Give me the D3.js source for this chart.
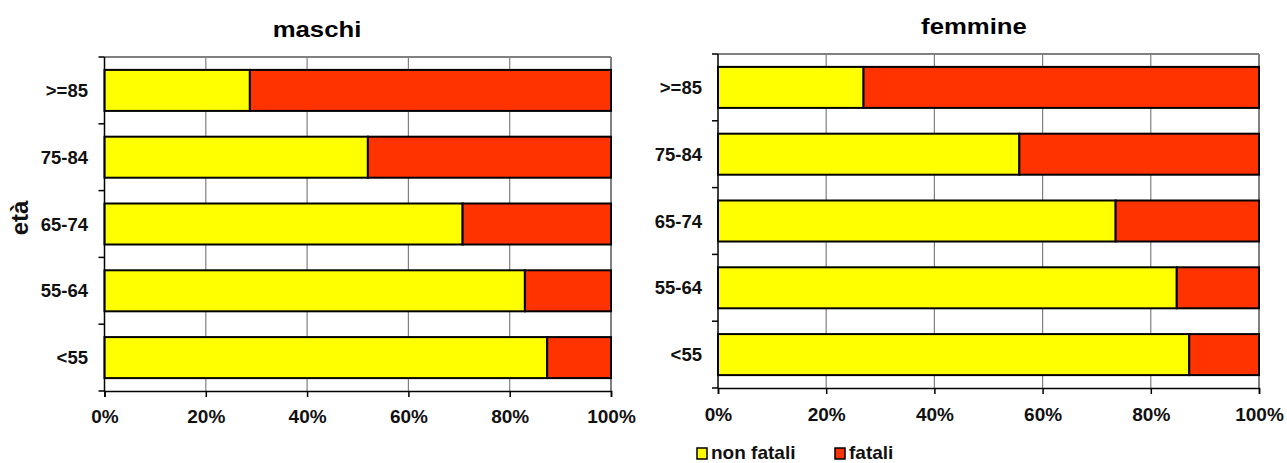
<!DOCTYPE html>
<html>
<head>
<meta charset="utf-8">
<script src="https://cdn.jsdelivr.net/npm/d3@7"></script>
<style>
  html, body { margin: 0; padding: 0; background: #fff; }
  svg { display: block; font-family: "Liberation Sans", Arial, sans-serif; }
</style>
</head>
<body>
<svg id="chart" width="1287" height="463"></svg>
<script>
// Age classes, top to bottom
const categories = [">=85", "75-84", "65-74", "55-64", "<55"];
// Share of events (%) by outcome
const maschiNonFatali  = [28.7, 52.0, 70.7, 83.0, 87.4];
const maschiFatali     = [71.3, 48.0, 29.3, 17.0, 12.6];
const femmineNonFatali = [26.9, 55.7, 73.5, 84.8, 87.1];
const femmineFatali    = [73.1, 44.3, 26.5, 15.2, 12.9];
const percentTicks = [0, 20, 40, 60, 80, 100];
const seriesNames = ["non fatali", "fatali"];
const seriesColors = ["#ffff00", "#ff3300"];

const svg = d3.select("#chart");

function drawPanel(opts) {
  const { title, nonFatali, fatali, x0, x1, top, bottom, titleX, titleY, labelRight, tickLabelY } = opts;
  const g = svg.append("g");

  const x = d3.scaleLinear().domain([0, 100]).range([x0, x1]);
  const y = d3.scaleBand().domain(categories).range([top, bottom])
    .paddingInner(0.386).paddingOuter(0.193);

  // vertical gridlines
  g.append("g").selectAll("line").data(percentTicks.slice(1)).join("line")
    .attr("x1", d => x(d)).attr("x2", d => x(d))
    .attr("y1", top).attr("y2", bottom)
    .attr("stroke", "#808080").attr("stroke-width", d => d === 100 ? 2 : 1.2);
  // top border
  g.append("line").attr("x1", x0).attr("x2", x1).attr("y1", top).attr("y2", top)
    .attr("stroke", "#808080").attr("stroke-width", 2);

  // stacked bars
  const rows = categories.map((c, i) => ({ cat: c, nf: nonFatali[i], f: fatali[i] }));
  const stacked = d3.stack().keys(["nf", "f"])(rows);
  g.append("g").selectAll("g").data(stacked).join("g")
    .attr("fill", (d, i) => seriesColors[i])
    .selectAll("rect").data(d => d).join("rect")
      .attr("x", d => x(d[0]))
      .attr("width", d => x(d[1]) - x(d[0]))
      .attr("y", d => y(d.data.cat))
      .attr("height", y.bandwidth())
      .attr("stroke", "#000").attr("stroke-width", 2);

  // left axis: line, ticks at class boundaries, labels at class centres
  const step = y.step();
  const bounds = d3.range(categories.length + 1).map(i => top + i * step);
  g.append("line").attr("x1", x0).attr("x2", x0).attr("y1", top).attr("y2", bottom)
    .attr("stroke", "#000").attr("stroke-width", 1.5);
  g.append("g").selectAll("line").data(bounds).join("line")
    .attr("x1", x0 - 6).attr("x2", x0).attr("y1", d => d).attr("y2", d => d)
    .attr("stroke", "#000").attr("stroke-width", 1.5);
  g.append("g").selectAll("text").data(categories).join("text")
    .attr("x", labelRight)
    .attr("y", d => y(d) + y.bandwidth() / 2)
    .attr("dy", "0.36em")
    .attr("text-anchor", "end")
    .attr("font-size", 18.5).attr("font-weight", "bold").attr("fill", "#111")
    .text(d => d);

  // bottom axis
  const axis = g.append("g").attr("transform", `translate(0,${bottom})`)
    .call(d3.axisBottom(x).tickValues(percentTicks).tickFormat(d => d + "%").tickSize(6).tickPadding(0));
  axis.select(".domain").attr("stroke", "#000").attr("stroke-width", 1.5);
  axis.selectAll(".tick line").attr("stroke", "#000").attr("stroke-width", 1.5);
  axis.selectAll(".tick text").attr("y", tickLabelY - bottom).attr("dy", 0)
    .attr("font-size", 19).attr("font-weight", "bold").attr("fill", "#111")
    .attr("font-family", "'Liberation Sans', Arial, sans-serif");

  // panel title
  g.append("text").attr("x", titleX).attr("y", titleY)
    .attr("text-anchor", "middle")
    .attr("font-size", 22).attr("font-weight", "bold").attr("fill", "#000")
    .attr("transform", `translate(${titleX},0) scale(1.17,1) translate(${-titleX},0)`)
    .text(title);
}

drawPanel({
  title: "maschi", nonFatali: maschiNonFatali, fatali: maschiFatali,
  x0: 104.5, x1: 611, top: 57, bottom: 391,
  titleX: 317, titleY: 37, labelRight: 88, tickLabelY: 423
});
drawPanel({
  title: "femmine", nonFatali: femmineNonFatali, fatali: femmineFatali,
  x0: 718, x1: 1259, top: 54, bottom: 388,
  titleX: 974, titleY: 34, labelRight: 702, tickLabelY: 421
});

// y-axis title
svg.append("text")
  .attr("transform", "translate(28,218) rotate(-90)")
  .attr("text-anchor", "middle")
  .attr("font-size", 24).attr("font-weight", "bold").attr("fill", "#111")
  .text("età");

// legend
const legend = svg.append("g");
const legendX = [697, 835];
seriesNames.forEach((name, i) => {
  legend.append("rect")
    .attr("x", legendX[i]).attr("y", 448).attr("width", 10).attr("height", 11)
    .attr("fill", seriesColors[i]).attr("stroke", "#000").attr("stroke-width", 1.5);
  legend.append("text")
    .attr("x", legendX[i] + 14).attr("y", 459)
    .attr("font-size", 19).attr("font-weight", "bold").attr("fill", "#111")
    .text(name);
});
</script>
</body>
</html>
